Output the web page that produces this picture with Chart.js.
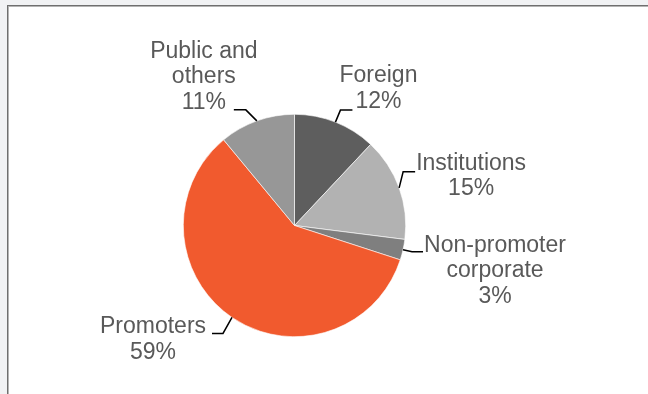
<!DOCTYPE html>
<html>
<head>
<meta charset="utf-8">
<script src="https://cdn.jsdelivr.net/npm/chart.js@4/dist/chart.umd.min.js"></script>
<style>
  html, body { margin: 0; padding: 0; width: 648px; height: 394px; overflow: hidden; background: #f1f2f4; }
  #frame { position: absolute; left: 7px; top: 5px; width: 700px; height: 450px; background: #ffffff;
           border-left: 1px solid #6f6f6f; border-top: 1px solid #6f6f6f; box-shadow: inset 1px 1px 0 #b4b4b4; }
  #wrap { position: absolute; left: 0; top: 0; width: 648px; height: 394px; }
</style>
</head>
<body>
<div id="frame"></div>
<div id="wrap"><canvas id="c" width="648" height="394"></canvas></div>
<script>
const categories = ['Foreign', 'Institutions', 'Non-promoter corporate', 'Promoters', 'Public and others'];
const shares = [12, 15, 3, 59, 11];
const labelLines = [['Foreign'], ['Institutions'], ['Non-promoter', 'corporate'], ['Promoters'], ['Public and', 'others']];
const sliceColors = ['#5e5e5e', '#b2b2b2', '#7f7f7f', '#f15a2e', '#979797'];

// label placement relative to the slice's outer edge midpoint (style only)
const labelLayout = [
  { elbow: [5, -12],  end: [17, -12],  text: [43, -40] },
  { elbow: [4, -16],  end: [16, -16],  text: [72, -18] },
  { elbow: [9, 2],    end: [20, 2],    text: [92, 2] },
  { elbow: [-9, 16],  end: [-20, 16],  text: [-79, 16] },
  { elbow: [-11, -11], end: [-23, -11], text: [-53, -63] }
];

const leaderPlugin = {
  id: 'leaders',
  afterDatasetsDraw(chart) {
    const ctx = chart.ctx;
    const meta = chart.getDatasetMeta(0);
    ctx.save();
    meta.data.forEach((arc, i) => {
      const p = arc.getProps(['x', 'y', 'startAngle', 'endAngle', 'outerRadius'], true);
      const mid = (p.startAngle + p.endAngle) / 2;
      const ex = p.x + Math.cos(mid) * p.outerRadius;
      const ey = p.y + Math.sin(mid) * p.outerRadius;
      const L = labelLayout[i];
      ctx.strokeStyle = '#000000';
      ctx.lineWidth = 1.5;
      ctx.beginPath();
      ctx.moveTo(ex, ey);
      ctx.lineTo(ex + L.elbow[0], ey + L.elbow[1]);
      ctx.lineTo(ex + L.end[0], ey + L.end[1]);
      ctx.stroke();
      const lines = labelLines[i].concat([shares[i] + '%']);
      ctx.fillStyle = '#595959';
      ctx.font = '23px "Liberation Sans", Arial, sans-serif';
      ctx.textAlign = 'center';
      ctx.textBaseline = 'alphabetic';
      lines.forEach((t, k) => {
        ctx.fillText(t, ex + L.text[0], ey + L.text[1] + k * 25.5);
      });
    });
    ctx.restore();
  }
};

new Chart(document.getElementById('c'), {
  type: 'pie',
  data: {
    labels: categories,
    datasets: [{
      data: shares,
      backgroundColor: sliceColors,
      borderColor: '#ffffff',
      borderWidth: 0.6
    }]
  },
  options: {
    responsive: false,
    animation: false,
    layout: { padding: { top: 114, bottom: 57, left: 183, right: 242 } },
    plugins: { legend: { display: false }, tooltip: { enabled: false } }
  },
  plugins: [leaderPlugin]
});
</script>
</body>
</html>
